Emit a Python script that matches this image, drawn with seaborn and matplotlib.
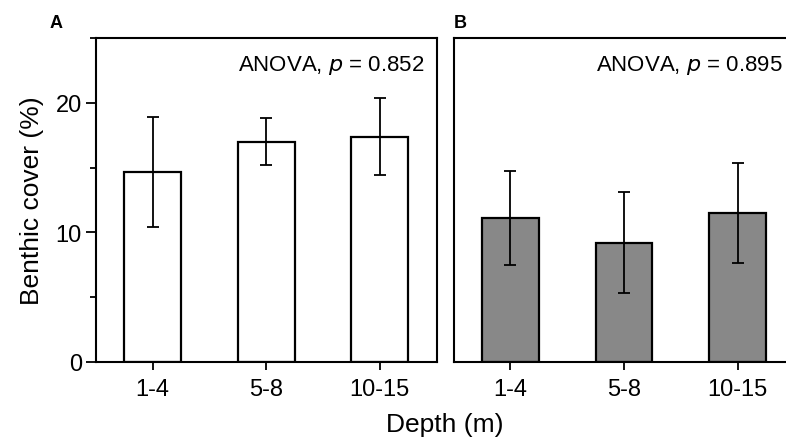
import numpy as np
import pandas as pd
import matplotlib
matplotlib.use("Agg")
import matplotlib.pyplot as plt
import seaborn as sns
from matplotlib.ticker import MultipleLocator

# data
depths = ["1-4", "5-8", "10-15"]
cover_a = [14.7, 17.0, 17.4]
err_a = [4.25, 1.8, 2.95]
cover_b = [11.1, 9.2, 11.5]
err_b = [3.65, 3.9, 3.85]
p_values = ["0.852", "0.895"]
panel_labels = ["A", "B"]
fills = ["white", "#888888"]

sns.set_style("ticks")
plt.rcParams['font.family'] = ['Liberation Sans', 'DejaVu Sans']
plt.rcParams['text.color'] = 'black'
plt.rcParams['axes.labelcolor'] = 'black'
plt.rcParams['xtick.color'] = 'black'
plt.rcParams['ytick.color'] = 'black'

fig = plt.figure(figsize=(7.86, 4.39), dpi=100)
ax_a = fig.add_axes([0.1218, 0.1738, 0.4338, 0.7367])
ax_b = fig.add_axes([0.5770, 0.1738, 0.4338, 0.7367])

panels = [
    (ax_a, cover_a, err_a),
    (ax_b, cover_b, err_b),
]

for i, (ax, vals, errs) in enumerate(panels):
    df = pd.DataFrame({"depth": depths, "cover": vals})
    sns.barplot(
        data=df, x="depth", y="cover", ax=ax,
        color=fills[i], edgecolor="black", linewidth=1.6,
        width=0.5, errorbar=None, saturation=1
    )
    ax.errorbar(
        np.arange(len(depths)), vals, yerr=errs,
        fmt="none", ecolor="black", elinewidth=1.3,
        capsize=4, capthick=1.3
    )
    ax.set_xlim(-0.5, 2.5)
    ax.set_ylim(0, 25)
    ax.set_xlabel("")
    ax.set_ylabel("")
    for s in ax.spines.values():
        s.set_visible(True)
        s.set_linewidth(1.5)
        s.set_color("black")
    ax.tick_params(axis="x", direction="out", length=6, width=1.3,
                   labelsize=17, pad=6, colors="black")
    ax.text(0.965, 0.955, f"ANOVA, $p$ = {p_values[i]}",
            transform=ax.transAxes, ha="right", va="top", fontsize=16,
            color="black")
    ax.text(-0.135 if i == 0 else 0.0, 1.022, panel_labels[i],
            transform=ax.transAxes, ha="left", va="bottom",
            fontsize=13, fontweight="bold", color="black")

# panel B runs past the right edge of the picture
ax_b.spines["right"].set_visible(False)

ax_a.yaxis.set_major_locator(MultipleLocator(10))
ax_a.yaxis.set_minor_locator(MultipleLocator(5))
ax_a.tick_params(axis="y", which="major", direction="out", length=7,
                 width=1.3, labelsize=17, pad=3, colors="black")
ax_a.tick_params(axis="y", which="minor", direction="out", length=4,
                 width=1.3, colors="black")
ax_a.set_ylabel("Benthic cover (%)", fontsize=19, labelpad=8, color="black")

ax_b.set_yticks([])
ax_b.tick_params(axis="y", which="both", left=False, labelleft=False)

fig.text(0.566, 0.004, "Depth (m)", ha="center", va="bottom", fontsize=19,
         color="black")

fig.savefig("out.png", dpi=100)
